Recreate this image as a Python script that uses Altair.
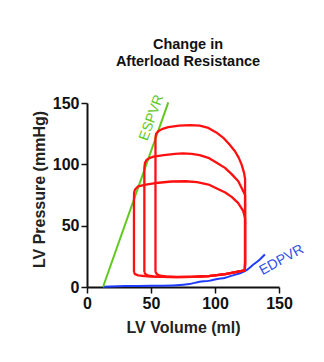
import altair as alt
import pandas as pd

# ---- data ----
loop_names = ["low", "mid", "high"]

loop1_vol = [36.7, 37.5, 40, 45, 50, 60, 70, 82, 95, 108, 118, 123.3, 123.5, 123.5, 122, 118, 113, 108, 101, 95, 86, 77, 66, 56, 46, 40, 37.5, 36.8, 36.7, 36.7]
loop1_pres = [12, 10.5, 9.5, 8.8, 8.5, 8.2, 8.1, 8.3, 8.8, 10.5, 12.5, 13.5, 20, 56, 62, 68.6, 73.5, 77, 80.5, 83.5, 85.5, 86.2, 86, 85, 83.5, 82, 79.5, 77, 70, 12]

loop2_vol = [44.8, 45.8, 48, 52, 58, 70, 82, 95, 108, 118, 123.3, 123.5, 123.5, 122.1, 118.2, 113, 107.8, 101, 94.8, 88, 81.8, 75, 68.8, 60, 52, 49.2, 46.5, 45.3, 44.8, 44.8]
loop2_pres = [12, 10.3, 9.2, 8.6, 8.3, 8.1, 8.3, 8.8, 10.5, 12.5, 13.5, 20, 75, 78, 86.2, 92, 97.1, 101.5, 105.3, 107.5, 108.5, 109, 108.5, 107.5, 106.3, 105.3, 103.5, 101.2, 97, 12]

loop3_vol = [53.5, 54.5, 57, 62, 70, 82, 95, 108, 118, 123.3, 123.5, 123.5, 122.7, 120.8, 118.5, 115.6, 111, 106.5, 101, 94.8, 88, 80.5, 72, 63.5, 58.5, 55.7, 54, 53.5, 53.5]
loop3_pres = [12.5, 10.5, 9.2, 8.6, 8.2, 8.3, 8.8, 10.5, 12.5, 13.5, 20, 88, 93, 99.8, 105.5, 110.7, 116.5, 121.6, 126, 129.7, 131.5, 132, 131.6, 130.3, 128.7, 127, 125, 122, 12.5]

espvr_vol = [12.5, 63.5]
espvr_pres = [0, 150.5]

edpvr_vol = [12.5, 30, 50, 70, 80, 88, 95, 102, 108, 114, 120, 125, 130, 135, 139]
edpvr_pres = [0.3, 0.8, 1.0, 1.5, 2.5, 4.2, 5.0, 6.5, 7.6, 9.5, 11.4, 14.0, 18.3, 22.5, 26.5]

label_text = ["ESPVR", "EDPVR"]
label_vol = [50.5, 152]
label_pres = [138, 22]

title_lines = ["Change in", "Afterload Resistance"]
x_ticks = [0, 25, 50, 75, 100, 125, 150]
y_ticks = [0, 12.5, 25, 37.5, 50, 62.5, 75, 87.5, 100, 112.5, 125, 137.5, 150]

FONT = "Liberation Sans"

rows = []
for name, vs, ps in [("low", loop1_vol, loop1_pres), ("mid", loop2_vol, loop2_pres), ("high", loop3_vol, loop3_pres)]:
    for i, (v, p) in enumerate(zip(vs, ps)):
        rows.append({"loop": name, "vol": v, "pres": p, "ord": i})
loops_df = pd.DataFrame(rows)
espvr_df = pd.DataFrame({"vol": espvr_vol, "pres": espvr_pres})
edpvr_df = pd.DataFrame({"vol": edpvr_vol, "pres": edpvr_pres})
lab_es = pd.DataFrame({"vol": [label_vol[0]], "pres": [label_pres[0]], "t": [label_text[0]]})
lab_ed = pd.DataFrame({"vol": [label_vol[1]], "pres": [label_pres[1]], "t": [label_text[1]]})

major = "datum.value % 50 === 0"

xscale = alt.Scale(domain=[0, 150], nice=False)
yscale = alt.Scale(domain=[0, 150], nice=False)

xaxis = alt.Axis(
    values=x_ticks, title="LV Volume (ml)",
    labelExpr=f"{major} ? datum.label : ''",
    tickSize=alt.condition(major, alt.value(6), alt.value(4)),
    grid=False, titlePadding=8, labelFlush=False,
)
yaxis = alt.Axis(
    values=y_ticks, title="LV Pressure (mmHg)",
    labelExpr=f"{major} ? datum.label : ''",
    tickSize=alt.condition(major, alt.value(6), alt.value(4)),
    grid=False, titlePadding=5, titleY=86, labelFlush=False,
)

base_x = alt.X("vol:Q", scale=xscale, axis=xaxis)
base_y = alt.Y("pres:Q", scale=yscale, axis=yaxis)

loops = alt.Chart(loops_df).mark_line(color="#ff1010", strokeWidth=2.3, strokeJoin="round").encode(
    x=base_x, y=base_y, detail="loop:N", order="ord:Q"
)
espvr = alt.Chart(espvr_df).mark_line(color="#62c81e", strokeWidth=2).encode(
    x=alt.X("vol:Q", scale=xscale), y=alt.Y("pres:Q", scale=yscale)
)
edpvr = alt.Chart(edpvr_df).mark_line(color="#1f3cff", strokeWidth=2, interpolate="monotone").encode(
    x=alt.X("vol:Q", scale=xscale), y=alt.Y("pres:Q", scale=yscale)
)
t_es = alt.Chart(lab_es).mark_text(
    color="#62c81e", font=FONT, fontSize=14, angle=290, align="center", baseline="middle"
).encode(x=alt.X("vol:Q", scale=xscale), y=alt.Y("pres:Q", scale=yscale), text="t:N")
t_ed = alt.Chart(lab_ed).mark_text(
    color="#2f4fe8", font=FONT, fontSize=14, angle=331, align="center", baseline="middle"
).encode(x=alt.X("vol:Q", scale=xscale), y=alt.Y("pres:Q", scale=yscale), text="t:N")

chart = alt.layer(edpvr, espvr, loops, t_es, t_ed).properties(
    width=192, height=184,
    autosize=alt.AutoSizeParams(type="none"),
    padding={"left": 79, "top": 95, "right": 37, "bottom": 61},
    background="white",
    title=alt.TitleParams(
        text=title_lines, font=FONT, fontSize=14.5, fontWeight="bold", color="#111111",
        anchor="middle", frame="group", offset=24, dx=5, lineHeight=17,
    ),
).configure_view(stroke=None).configure_axis(
    domainColor="#111111", domainWidth=2, tickColor="#111111", tickWidth=1.5,
    labelFont=FONT, labelFontSize=16, labelFontWeight="bold", labelColor="#111111", labelPadding=2,
    titleFont=FONT, titleFontSize=16, titleFontWeight="bold", titleColor="#222222",
)

chart.save("out.html", embed_options={"renderer": "svg", "actions": False})
